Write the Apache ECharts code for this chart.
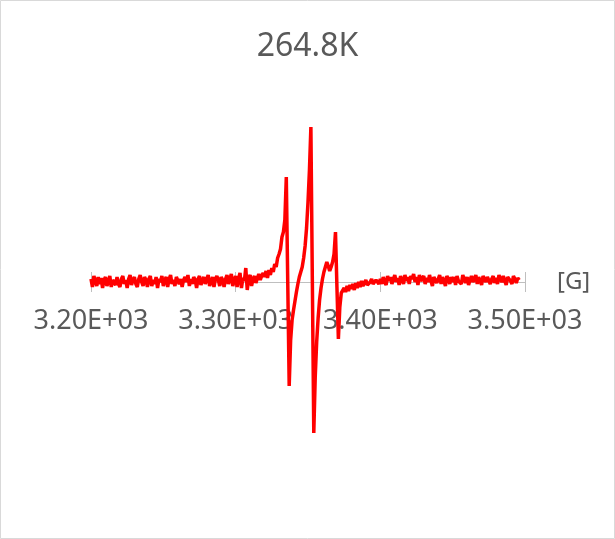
<!DOCTYPE html>
<html>
<head>
<meta charset="utf-8">
<script src="https://cdn.jsdelivr.net/npm/echarts@6/dist/echarts.min.js"></script>
<style>
html,body{margin:0;padding:0;background:#fff;}
#chart{width:615px;height:539px;}
</style>
</head>
<body>
<div id="chart"></div>
<script>
// Title and axis texts
const chartTitle = "264.8K";
const axisUnit = "[G]";
const xTicks = [3200, 3300, 3400, 3500];

// Magnetic field sampling (G): first field value and step between samples
const fieldStart = 3200;
const fieldStep = 1;

// EPR signal intensity (arbitrary units), one value per field sample, 3200..3496 G
const intensity = [
  3, -5, 6, 1, -4, 5, -2, 4, -6, 2,
  5, -4, 0, 6, -5, 2, 4, -3, 5, -2,
  -5, 3, 6, -2, 2, -6, 3, 7, -3, 2,
  5, -2, -5, 3, 7, 0, -4, 5, 2, -5,
  3, 6, -4, 2, -2, 5, -6, 3, 0, 6,
  -4, 2, 5, -5, 3, 7, -2, 2, -4, 5,
  6, -2, 3, -5, 2, 5, 0, 7, -4, 3,
  -2, 5, 2, -6, 3, 6, -3, 2, 5, -2,
  3, 7, -4, 0, 5, -5, 3, 6, 2, -4,
  5, 2, -5, 3, 7, -2, 3, 8, -4, 2,
  6, -5, 3, 9, -6, 4, 1, 14, -8, 4,
  7, -4, 3, 6, -1, 4, 8, 2, 6, 9,
  5, 11, 4, 12, 7, 14, 10, 18, 15, 24,
  28, 33, 45, 50, 62, 105, 0, -104, -58, -38,
  -28, -19, -10, -2, 5, 10, 15, 24, 36, 54,
  80, 112, 155, 2, -151, -95, -60, -36, -18, -6,
  3, 10, 15, 20, 16, 11, 15, 20, 28, 50,
  -5, -57, -25, -11, -12, -6, -10, -4, -9, -3,
  -7, -2, -8, -1, -6, 0, -5, 1, -4, -6,
  2, -3, -5, 0, 3, -2, -4, 2, 4, -2,
  3, -2, 5, 0, -3, 6, 1, 5, -2, 3,
  7, 0, 4, -3, 6, 2, -2, 7, 1, 5,
  -2, 6, 3, 8, 0, 5, -3, 7, 1, 3,
  6, -2, 4, 0, 7, 1, -4, 5, 6, -1,
  3, 7, -2, 5, 1, -4, 6, 3, -2, 5,
  0, 5, -3, 6, 1, 3, -2, 7, 3, -1,
  5, -3, 2, 6, 0, 3, 7, -2, 5, 1,
  -3, 6, 3, 0, 5, 7, -2, 3, 6, -1,
  4, -2, 7, 3, 0, 6, 1, -3, 5, 7,
  1, -2, 6, 3, -1, 4, 2
];

const seriesData = intensity.map((v, i) => [fieldStart + i * fieldStep, v]);

const textColor = '#595959';
const axisColor = '#bfbfbf';
const fontFam = '"Noto Sans", "Open Sans", sans-serif';
const fmt = v => {
  const s = v.toExponential(2).toUpperCase();
  return s.replace(/E([+-])(\d)$/, 'E$10$2');
};
const xMin = xTicks[0], xMax = xTicks[xTicks.length - 1];
const xInterval = xTicks[1] - xTicks[0];

const L = 91, R = 90, T = 82;
const plotBottom = 57;     // full plot area bottom margin
const zeroLineH = 200;     // height from top to the zero line

const chart = echarts.init(document.getElementById('chart'), null, {renderer: 'canvas'});
chart.setOption({
  animation: false,
  backgroundColor: '#ffffff',
  title: {
    text: chartTitle,
    left: 'center',
    top: 26,
    textStyle: {fontFamily: fontFam, fontSize: 32, fontWeight: 'normal', color: textColor}
  },
  grid: [
    {left: L, right: R, top: T, bottom: plotBottom},
    {left: L, right: R, top: T, height: zeroLineH},
    {left: L, right: R, top: T, height: zeroLineH}
  ],
  xAxis: [{
    gridIndex: 0, type: 'value',
    min: xMin, max: xMax, interval: xInterval,
    show: false
  }, {
    gridIndex: 1, type: 'value', position: 'bottom',
    min: xMin, max: xMax, interval: xInterval,
    name: axisUnit,
    nameLocation: 'end',
    nameGap: 32,
    nameTextStyle: {fontFamily: fontFam, fontSize: 24, color: textColor},
    axisLine: {onZero: false, lineStyle: {color: axisColor, width: 1}},
    axisTick: {show: true, length: 10, lineStyle: {color: axisColor}},
    axisLabel: {formatter: fmt, fontFamily: fontFam, fontSize: 27, color: textColor, margin: 26},
    splitLine: {show: false}
  }, {
    gridIndex: 2, type: 'value', position: 'bottom',
    min: xMin, max: xMax, interval: xInterval,
    axisLine: {onZero: false, lineStyle: {color: axisColor, width: 1}},
    axisTick: {show: true, inside: true, length: 10, lineStyle: {color: axisColor}},
    axisLabel: {show: false},
    splitLine: {show: false}
  }],
  yAxis: [
    {gridIndex: 0, type: 'value', min: -200, max: 200, show: false},
    {gridIndex: 1, type: 'value', min: 0, max: 1, show: false},
    {gridIndex: 2, type: 'value', min: 0, max: 1, show: false}
  ],
  graphic: [{
    type: 'rect',
    shape: {x: 0.5, y: 0.5, width: 614, height: 538},
    style: {fill: 'none', stroke: '#d9d9d9', lineWidth: 1},
    silent: true
  }],
  series: [{
    type: 'line',
    xAxisIndex: 0, yAxisIndex: 0,
    data: seriesData,
    showSymbol: false,
    z: 3,
    lineStyle: {color: '#ff0000', width: 3.5},
    itemStyle: {color: '#ff0000'}
  }]
});
</script>
</body>
</html>
